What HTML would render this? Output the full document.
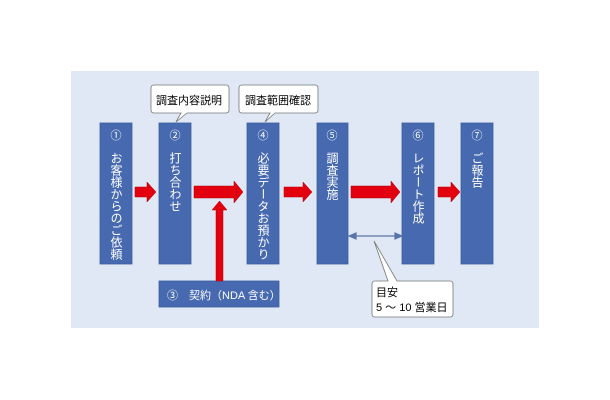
<!DOCTYPE html>
<html><head><meta charset="utf-8"><style>
html,body{margin:0;padding:0;background:#fff;}
svg{display:block;}
text{font-family:"Liberation Sans","Noto Sans CJK JP",sans-serif;}
.v{writing-mode:vertical-rl;fill:#fff;font-size:12px;}
.n{fill:#fff;font-size:11px;text-anchor:middle;}
</style></head><body>
<svg width="610" height="400" viewBox="0 0 610 400" xmlns="http://www.w3.org/2000/svg">
<rect x="71" y="71" width="468" height="257" fill="#dfe8f4"/>
<g fill="#4669b0" stroke="#3d5e9e" stroke-width="0.8">
<rect x="100" y="123" width="32" height="141"/>
<rect x="159" y="123" width="32" height="141"/>
<rect x="247" y="123" width="32" height="141"/>
<rect x="317" y="123" width="31" height="141"/>
<rect x="402" y="123" width="32" height="141"/>
<rect x="461" y="123" width="32" height="141"/>
<rect x="159" y="281" width="120" height="26"/>
</g>
<g class="n">
<text x="116" y="139">①</text><text x="175" y="139">②</text><text x="263" y="139">④</text>
<text x="332" y="139">⑤</text><text x="418" y="139">⑥</text><text x="477" y="139">⑦</text>
</g>
<g class="v">
<text x="116" y="152">お客様からのご依頼</text>
<text x="175" y="152">打ち合わせ</text>
<text x="263" y="152">必要データお預かり</text>
<text x="332" y="152">調査実施</text>
<text x="418" y="152">レポート作成</text>
<text x="477" y="152">ご報告</text>
</g>
<text x="167" y="299" fill="#fff" font-size="11">③　契約（NDA 含む）</text>
<g fill="#e3000f" stroke="#b00010" stroke-width="0.5">
<polygon points="135,187 147,187 147,182 156,192 147,202 147,197 135,197"/>
<polygon points="194,186 234,186 234,181 243,192 234,203 234,198 194,198"/>
<polygon points="216,281 216,210 212,210 219.5,201 227,210 223,210 223,281"/>
<polygon points="284,187 303,187 303,182 312,192 303,202 303,197 284,197"/>
<polygon points="351,186 391,186 391,181 400,192 391,203 391,198 351,198"/>
<polygon points="438,187 451,187 451,182 460,192 451,202 451,197 438,197"/>
</g>
<g stroke="#5a75a8" stroke-width="1.2" fill="#5a75a8">
<line x1="354" y1="236" x2="398" y2="236"/>
<polygon points="349,236 356,233 356,239"/>
<polygon points="402,236 395,233 395,239"/>
</g>
<g fill="#fff" stroke="#777" stroke-width="0.8">
<path d="M154,85 H226 Q229,85 229,88 V110 Q229,113 226,113 H187 L176,122 L181,113 H154 Q151,113 151,110 V88 Q151,85 154,85 Z"/>
<path d="M242,85 H315 Q318,85 318,88 V110 Q318,113 315,113 H275 L265,122 L270,113 H242 Q239,113 239,110 V88 Q239,85 242,85 Z"/>
<path d="M375,281 H388 L374,241 L397,281 H450 Q453,281 453,284 V314 Q453,317 450,317 H375 Q372,317 372,314 V284 Q372,281 375,281 Z"/>
</g>
<text x="156" y="104" font-size="11" fill="#000">調査内容説明</text>
<text x="245" y="104" font-size="11" fill="#000">調査範囲確認</text>
<text x="376" y="296" font-size="11" fill="#000">目安</text>
<text x="376" y="311" font-size="11" fill="#000">5 ～ 10 営業日</text>
</svg>
</body></html>
